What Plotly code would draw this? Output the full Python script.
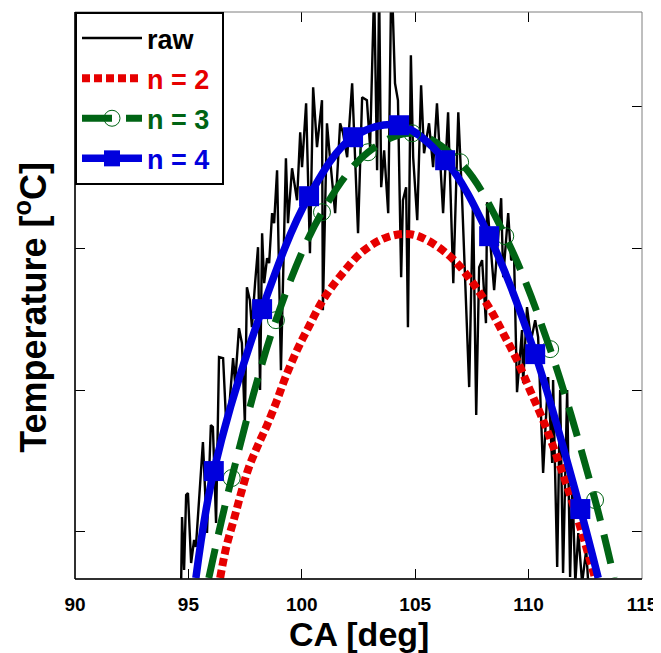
import plotly.graph_objects as go

# ---------------- data ----------------
# crank angle [deg] and temperature (arbitrary units, tick labels hidden)
raw_ca = [94.68, 94.72, 94.81, 94.90, 94.98, 95.12, 95.25, 95.33, 95.47, 95.64,
          95.82, 95.99, 96.08, 96.22, 96.35, 96.53, 96.66, 96.79, 96.97, 97.06,
          97.23, 97.36, 97.49, 97.58, 97.71, 97.80, 97.94, 98.07, 98.16, 98.25,
          98.34, 98.47, 98.56, 98.69, 98.78, 98.91, 99.08, 99.30, 99.39, 99.57,
          99.79, 99.93, 100.01, 100.19, 100.36, 100.50, 100.67, 100.80, 100.89, 100.93,
          101.11, 101.24, 101.47, 101.69, 101.82, 102.00, 102.22, 102.48, 102.66, 102.87,
          103.01, 103.19, 103.32, 103.41, 103.50, 103.63, 103.81, 103.94, 103.98, 104.11,
          104.24, 104.38, 104.46, 104.60, 104.68, 104.81, 104.91, 105.09, 105.26, 105.39,
          105.53, 105.61, 105.79, 105.96, 106.23, 106.45, 106.68, 106.90, 107.07, 107.38,
          107.55, 107.69, 107.82, 107.95, 108.12, 108.17, 108.48, 108.79, 108.88, 109.10,
          109.23, 109.36, 109.49, 109.71, 109.76, 109.93, 110.11, 110.29, 110.42, 110.64,
          110.86, 111.04, 111.08, 111.26, 111.39, 111.52, 111.70, 111.83, 111.93, 112.06,
          112.19, 112.36, 112.54, 112.63]
raw_T = [-5, 61, 8, 83, 85, 15, 38, 31, 78, 136,
         45, 153, 151, 55, 221, 220, 158, 168, 220, 195,
         250, 235, 155, 291, 278, 251, 295, 331, 188, 345,
         295, 320, 315, 365, 355, 408, 208, 420, 355, 410,
         378, 446, 411, 475, 325, 491, 431, 458, 478, 268,
         455, 421, 365, 455, 445, 421, 495, 345, 481, 478,
         431, 590, 408, 590, 391, 428, 365, 590, 590, 495,
         478, 301, 378, 391, 251, 523, 421, 358, 493, 425,
         445, 455, 411, 475, 365, 466, 295, 466, 378, 191,
         378, 163, 311, 318, 255, 376, 288, 380, 301, 365,
         318, 321, 186, 248, 195, 271, 238, 258, 241, 105,
         201, 115, 198, 11, 188, 5, 188, 1, 95, -5,
         45, -5, 28, -5]

n2_ca = [96.40, 96.66, 97.06, 97.36, 97.67, 98.07, 98.47, 98.91, 99.30, 99.79,
         100.32, 100.93, 101.73, 102.70, 103.76, 104.77, 105.53, 106.62, 107.55, 108.30,
         108.92, 109.49, 110.06, 110.69, 111.30, 111.87, 112.45, 112.93]
n2_T = [0, 30, 63, 88, 111, 133, 153, 178, 202, 228,
        252, 278, 303, 327, 341, 344, 338, 320, 295, 269,
        243, 218, 188, 155, 118, 80, 38, 0]

n3_ca = [95.90, 96.91, 98.86, 100.89, 102.92, 104.87, 106.98, 108.97, 110.95, 112.93, 113.77]
n3_T = [0, 100, 258, 366, 426, 445, 416, 342, 229, 78, 0]

n4_ca = [95.33, 96.12, 98.25, 100.32, 102.26, 104.29, 106.32, 108.26, 110.29, 112.28, 113.07]
n4_T = [0, 107, 269, 382, 441, 453, 418, 342, 224, 69, 0]

x_ticks = [90, 95, 100, 105, 110, 115]
y_ticks = [46.3, 188.0, 329.7, 471.4]

RED = "#E60000"
GREEN = "#006414"
BLUE = "#0000DD"
FONT = "Arial, Liberation Sans, sans-serif"
NB = "\u00a0"

fig = go.Figure()

# raw signal
fig.add_trace(go.Scatter(x=raw_ca, y=raw_T, mode="lines", name="raw" + NB,
                         line=dict(color="black", width=2.4), legendrank=1,
                         legendgroup="g1"))

# fit lines
fig.add_trace(go.Scatter(x=n2_ca, y=n2_T, mode="lines", showlegend=False,
                         line=dict(color=RED, width=8, dash="8px,4px", shape="spline")))
fig.add_trace(go.Scatter(x=n3_ca, y=n3_T, mode="lines", showlegend=False,
                         line=dict(color=GREEN, width=7, dash="30px,14px", shape="spline")))
fig.add_trace(go.Scatter(x=n4_ca, y=n4_T, mode="lines", showlegend=False,
                         line=dict(color=BLUE, width=7.5, shape="spline")))
# markers
fig.add_trace(go.Scatter(x=n3_ca[1:-1], y=n3_T[1:-1], mode="markers", showlegend=False,
                         marker=dict(symbol="circle-open", size=17, color=GREEN,
                                     line=dict(width=1, color=GREEN))))
fig.add_trace(go.Scatter(x=n4_ca[1:-1], y=n4_T[1:-1], mode="markers", showlegend=False,
                         marker=dict(symbol="square", size=20, color=BLUE)))

# legend entries
fig.add_trace(go.Scatter(x=[None], y=[None], mode="lines",
                         name=f"<span style='color:{RED}'>n = 2{NB}</span>",
                         line=dict(color=RED, width=8, dash="8px,4px"), legendrank=2,
                         legendgroup="g2"))
fig.add_trace(go.Scatter(x=[None], y=[None], mode="lines+markers",
                         name=f"<span style='color:{GREEN}'>n = 3{NB}</span>",
                         line=dict(color=GREEN, width=7, dash="30px,14px"),
                         marker=dict(symbol="circle-open", size=16, color=GREEN,
                                     line=dict(width=1, color=GREEN)), legendrank=3,
                         legendgroup="g3"))
fig.add_trace(go.Scatter(x=[None], y=[None], mode="lines+markers",
                         name=f"<span style='color:{BLUE}'>n = 4{NB}</span>",
                         line=dict(color=BLUE, width=7.5),
                         marker=dict(symbol="square", size=16, color=BLUE), legendrank=4,
                         legendgroup="g4"))

fig.update_layout(
    width=661, height=653,
    margin=dict(l=67, r=27.4, t=4, b=82),
    paper_bgcolor="white", plot_bgcolor="white",
    font=dict(family=FONT, color="black"),
    showlegend=True,
    legend=dict(x=0, y=1, xanchor="left", yanchor="top",
                bgcolor="white", bordercolor="black", borderwidth=2,
                font=dict(family=FONT, size=27, weight="bold", color="black"),
                itemwidth=60, traceorder="grouped", tracegroupgap=2),
    xaxis=dict(range=[90, 115], tickvals=x_ticks, ticks="inside", ticklen=10,
               tickcolor="black", tickwidth=1, mirror="ticks", showline=False,
               showgrid=False, zeroline=False, ticklabelstandoff=12,
               tickfont=dict(family=FONT, size=19, weight="bold", color="black")),
    yaxis=dict(range=[-1, 566.3], tickvals=y_ticks, ticks="inside", ticklen=10,
               tickcolor="black", tickwidth=1, mirror="ticks", showline=False,
               showgrid=False, zeroline=False, showticklabels=False),
    shapes=[
        dict(type="rect", xref="paper", yref="paper", x0=0, x1=1, y0=0, y1=1,
             line=dict(color="#7f7f7f", width=1), layer="above"),
        dict(type="line", xref="paper", yref="paper", x0=0, x1=0, y0=0, y1=1,
             line=dict(color="black", width=1.5), layer="above"),
        dict(type="line", xref="paper", yref="paper", x0=0, x1=1, y0=0, y1=0,
             line=dict(color="black", width=1.5), layer="above"),
    ],
    annotations=[
        dict(text="<b>CA [deg]</b>", xref="paper", yref="paper", x=0.5, y=-0.097,
             xanchor="center", yanchor="middle", showarrow=False,
             font=dict(family=FONT, size=34, color="black")),
        dict(text="<b>Temperature [<sup>o</sup>C]</b>", xref="paper", yref="paper",
             x=-0.0777, y=0.48, xanchor="center", yanchor="middle", showarrow=False,
             textangle=-90, font=dict(family=FONT, size=36, color="black")),
    ],
)

fig.write_html("out.html")
